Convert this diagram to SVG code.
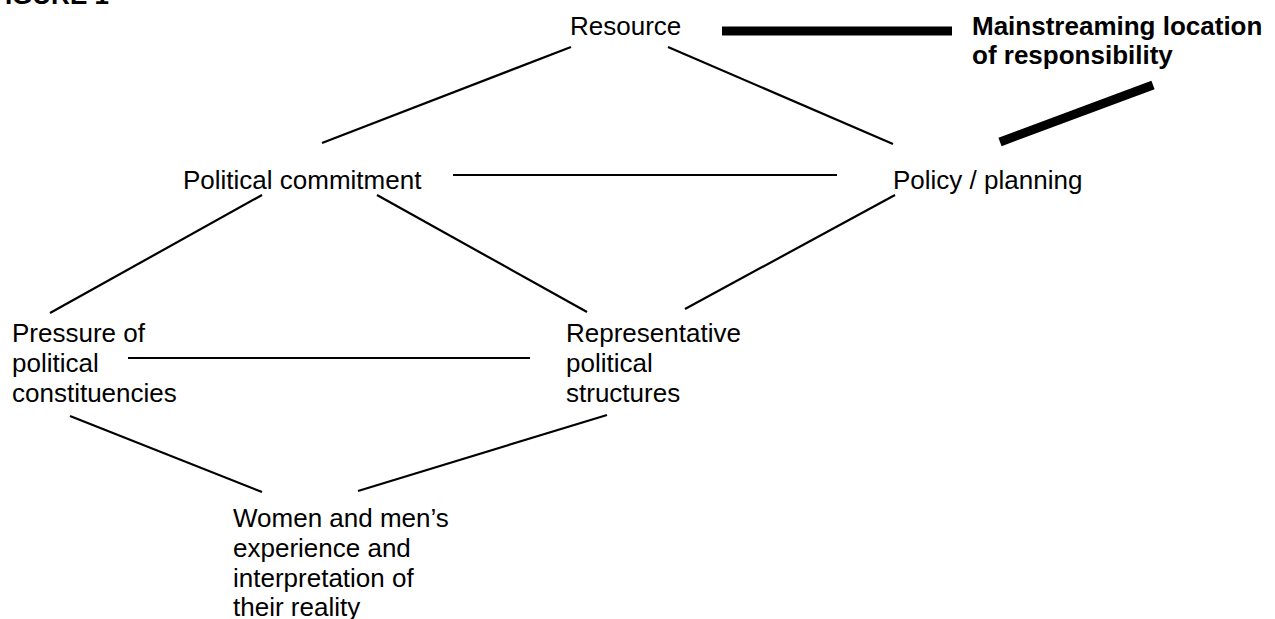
<svg xmlns="http://www.w3.org/2000/svg" width="1275" height="619" viewBox="0 0 1275 619">
<style>
text{font-family:"Liberation Sans",Arial,sans-serif;font-size:26px;fill:#000}
.b{font-weight:bold}
.l{stroke:#000;stroke-width:2.2;fill:none}
.t{stroke:#000;stroke-width:9;fill:none}
</style>
<rect width="1275" height="619" fill="#fff"/>
<text class="b" x="-11" y="4">FIGURE 1</text>
<g id="connectors">
<line class="l" x1="571" y1="47" x2="322" y2="143"/>
<line class="l" x1="668" y1="47" x2="893" y2="144"/>
<line class="l" x1="453" y1="175" x2="837" y2="175"/>
<line class="l" x1="262" y1="195" x2="50" y2="313"/>
<line class="l" x1="377" y1="195" x2="587" y2="312"/>
<line class="l" x1="895" y1="195" x2="685" y2="309"/>
<line class="l" x1="128" y1="358" x2="530" y2="358"/>
<line class="l" x1="70" y1="416" x2="262" y2="492"/>
<line class="l" x1="607" y1="415" x2="358" y2="491"/>
<line class="t" x1="722" y1="31" x2="952" y2="31"/>
<line class="t" x1="1000" y1="142" x2="1153" y2="85"/>
</g>
<g id="resource"><text x="570" y="35">Resource</text></g>
<g id="mainstreaming"><text class="b" x="972" y="35">Mainstreaming location</text><text class="b" x="972" y="64">of responsibility</text></g>
<g id="political-commitment"><text x="183" y="189">Political commitment</text></g>
<g id="policy-planning"><text x="893" y="189">Policy / planning</text></g>
<g id="pressure"><text x="12" y="342">Pressure of</text><text x="12" y="372">political</text><text x="12" y="402">constituencies</text></g>
<g id="representative"><text x="566" y="342">Representative</text><text x="566" y="372">political</text><text x="566" y="402">structures</text></g>
<g id="women-men"><text x="233" y="527">Women and men’s</text><text x="233" y="557">experience and</text><text x="233" y="587">interpretation of</text><text x="233" y="616">their reality</text></g>
</svg>
